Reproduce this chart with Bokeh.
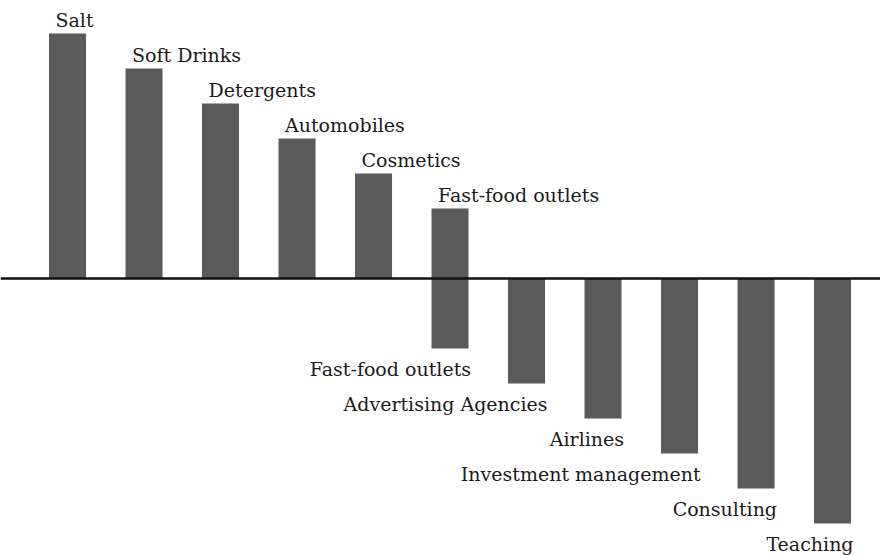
from bokeh.plotting import figure
from bokeh.models import Span, ColumnDataSource, Range1d
from bokeh.core.properties import value
from bokeh.embed import file_html
from bokeh.resources import INLINE

# Data
pos_labels = ["Salt", "Soft Drinks", "Detergents", "Automobiles", "Cosmetics", "Fast-food outlets"]
pos_values = [7, 6, 5, 4, 3, 2]
pos_x = [0, 1, 2, 3, 4, 5]

neg_labels = ["Fast-food outlets", "Advertising Agencies", "Airlines",
              "Investment management", "Consulting", "Teaching"]
neg_values = [-2, -3, -4, -5, -6, -7]
neg_x = [5, 6, 7, 8, 9, 10]

W, H = 880, 555
p = figure(width=W, height=H, output_backend="svg", toolbar_location=None,
           x_range=Range1d(-0.876, 10.627), y_range=Range1d(-7.914, 7.943),
           min_border=0, min_border_left=0, min_border_right=0,
           min_border_top=0, min_border_bottom=0)
p.axis.visible = False
p.grid.visible = False
p.outline_line_color = None
p.background_fill_color = "white"
p.border_fill_color = "white"

pos_src = ColumnDataSource(dict(x=pos_x, top=pos_values, label=pos_labels))
neg_src = ColumnDataSource(dict(x=neg_x, top=neg_values, label=neg_labels))

bar_color = "#5a5a5a"
p.vbar(x="x", top="top", bottom=0, width=0.484, source=pos_src,
       fill_color=bar_color, line_color=None)
p.vbar(x="x", top="top", bottom=0, width=0.484, source=neg_src,
       fill_color=bar_color, line_color=None)

p.add_layout(Span(location=0, dimension="width", line_color="#111111", line_width=2.5))

font = value("DejaVu Serif")
p.text(x="x", y="top", text="label", source=pos_src, text_font=font,
       text_font_size="19px", text_color="#1a1a1a", text_align="left",
       text_baseline="alphabetic", x_offset=-12, y_offset=-14)
p.text(x="x", y="top", text="label", source=neg_src, text_font=font,
       text_font_size="19px", text_color="#1a1a1a", text_align="right",
       text_baseline="alphabetic", x_offset=21, y_offset=20)

open("out.html", "w").write(file_html(p, INLINE))
